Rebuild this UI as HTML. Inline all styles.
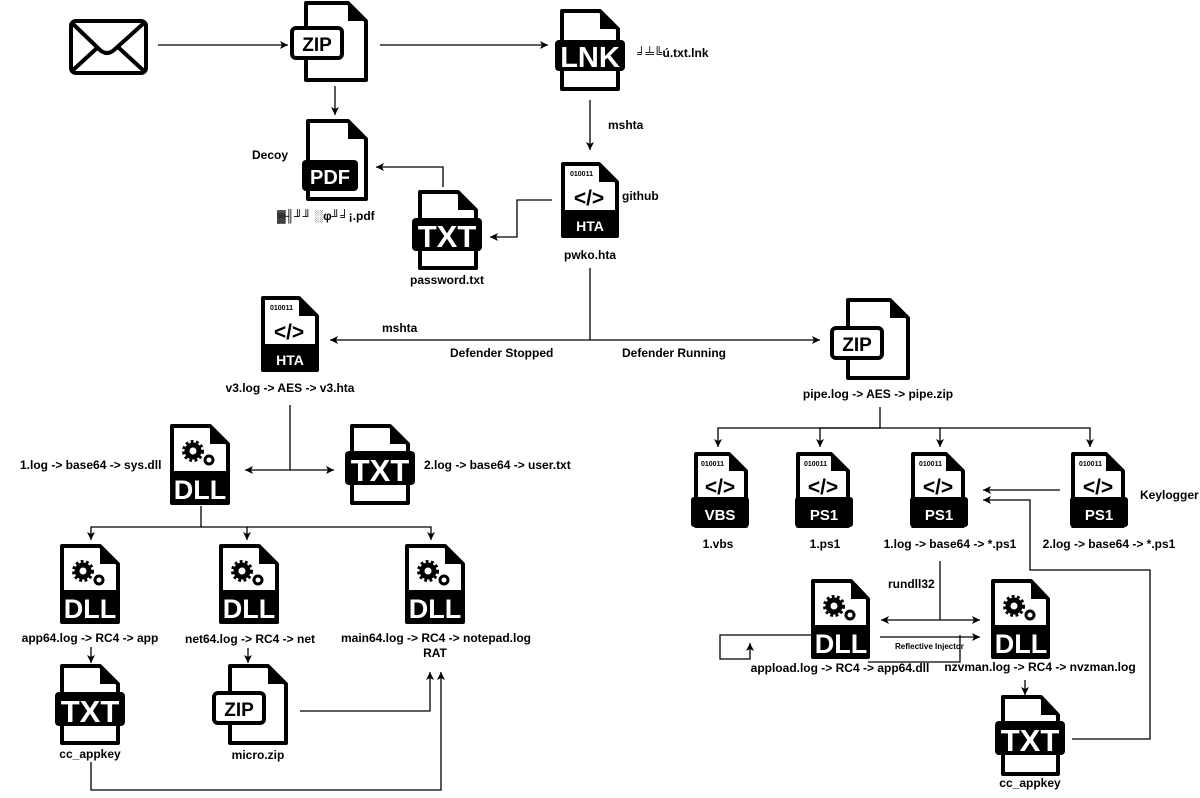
<!DOCTYPE html>
<html><head><meta charset="utf-8"><style>
html,body{margin:0;padding:0;background:#fff}
svg{display:block}
.f{fill:#fff;stroke:#000;stroke-width:4;stroke-linejoin:round}
.k{fill:#000}
.ln{fill:none;stroke:#000;stroke-width:1.3}
text{font-family:"Liberation Sans","DejaVu Sans",sans-serif;font-weight:bold}
.lb{font-size:12px}
.w{fill:#fff;text-anchor:middle}
.c{text-anchor:middle}
.g1{fill:none;stroke:#000;stroke-width:5}
.g2{fill:none;stroke:#000;stroke-width:4;stroke-dasharray:2.6 2.4}
</style></head><body>
<svg width="1200" height="798" viewBox="0 0 1200 798" xmlns="http://www.w3.org/2000/svg">
<defs><marker id="a" markerWidth="10" markerHeight="10" refX="9" refY="5" orient="auto" markerUnits="userSpaceOnUse"><path d="M1,1 L9,5 L1,9 L3,5 Z" fill="#000"/></marker></defs>

<!-- envelope -->
<rect x="71" y="21" width="75" height="52" rx="5" fill="#fff" stroke="#000" stroke-width="4"/>
<path d="M72,23 L100,50 Q107,56 114,50 L144,23 M72,71 L97,48 M144,71 L119,48" fill="none" stroke="#000" stroke-width="4"/>

<!-- connectors -->
<g class="ln">
<path d="M158,45 H288" marker-end="url(#a)"/>
<path d="M380,45 H548" marker-end="url(#a)"/>
<path d="M335,86 V115" marker-end="url(#a)"/>
<path d="M590,100 V150" marker-end="url(#a)"/>
<path d="M443,187 V167 H376" marker-end="url(#a)"/>
<path d="M552,200 H517 V237 H490" marker-end="url(#a)"/>
<path d="M590,268 V340"/>
<path d="M590,340 H330" marker-end="url(#a)"/>
<path d="M590,340 H820" marker-end="url(#a)"/>
<path d="M290,405 V470"/>
<path d="M290,470 H245" marker-end="url(#a)"/>
<path d="M290,470 H334" marker-end="url(#a)"/>
<path d="M201,506 V527 H91 V540" marker-end="url(#a)"/>
<path d="M201,527 H247 V540" marker-end="url(#a)"/>
<path d="M247,527 H431 V540" marker-end="url(#a)"/>
<path d="M91,647 V663" marker-end="url(#a)"/>
<path d="M248,648 V663" marker-end="url(#a)"/>
<path d="M300,711 H430 V672" marker-end="url(#a)"/>
<path d="M91,762 V790 H441 V672" marker-end="url(#a)"/>
<path d="M880,407 V428 H718 V447" marker-end="url(#a)"/>
<path d="M880,428 H820 V447" marker-end="url(#a)"/>
<path d="M880,428 H940 V447" marker-end="url(#a)"/>
<path d="M940,428 H1090 V447" marker-end="url(#a)"/>
<path d="M1060,490 H983" marker-end="url(#a)"/>
<path d="M1072,739 H1150 V570 H1030 V500 H983" marker-end="url(#a)"/>
<path d="M940,561 V620"/>
<path d="M940,620 H881" marker-end="url(#a)"/>
<path d="M940,620 H980" marker-end="url(#a)"/>
<path d="M880,637 H980" marker-end="url(#a)"/>
<path d="M960,635 V662 H868"/>
<path d="M812,635 H720 V659 H750 V643" marker-end="url(#a)"/>
<path d="M1025,680 V695" marker-end="url(#a)"/>
</g>

<!-- ZIP top -->
<path class="f" d="M306,3 H348 L366,21 V80 H306 Z"/><path class="k" d="M348,3 L366,21 H348 Z"/>
<rect x="292" y="28" width="50" height="30" rx="4" fill="#fff" stroke="#000" stroke-width="4"/>
<text x="317" y="51" class="c" font-size="19">ZIP</text>
<!-- LNK -->
<path class="f" d="M562,11 H600 L618,29 V89 H562 Z"/><path class="k" d="M600,11 L618,29 H600 Z"/>
<rect x="555" y="40" width="70" height="31" rx="4" class="k"/>
<text x="590" y="67" class="w" font-size="29">LNK</text>
<text x="637" y="57" class="lb">╛╧╚ú.txt.lnk</text>
<!-- PDF -->
<path class="f" d="M308,121 H348 L366,139 V199 H308 Z"/><path class="k" d="M348,121 L366,139 H348 Z"/>
<rect x="302" y="160" width="56" height="31" rx="4" class="k"/>
<text x="330" y="184" class="w" font-size="20">PDF</text>
<text x="252" y="159" class="lb">Decoy</text>
<text x="277" y="220" class="lb">▓╢╜╜ ░φ╜╛¡.pdf</text>
<!-- TXT password -->
<path class="f" d="M420,192 H458 L476,210 V268 H420 Z"/><path class="k" d="M458,192 L476,210 H458 Z"/>
<rect x="412" y="218" width="70" height="33" rx="4" class="k"/>
<text x="447" y="247" class="w" font-size="31">TXT</text>
<text x="447" y="284" class="lb c">password.txt</text>
<!-- HTA github -->
<path class="f" d="M563,164 H599 L617,182 V236 H563 Z"/><path class="k" d="M599,164 L617,182 H599 Z"/>
<rect x="561" y="210" width="58" height="28" rx="3" class="k"/>
<text x="570" y="176" font-size="7">010011</text>
<text x="589" y="205" class="c" font-size="21">&lt;/&gt;</text>
<text x="590" y="231" class="w" font-size="14">HTA</text>
<text x="622" y="200" class="lb">github</text>
<text x="590" y="259" class="lb c">pwko.hta</text>
<text x="608" y="129" class="lb">mshta</text>
<!-- HTA v3 -->
<path class="f" d="M263,298 H299 L317,316 V370 H263 Z"/><path class="k" d="M299,298 L317,316 H299 Z"/>
<rect x="261" y="344" width="58" height="28" rx="3" class="k"/>
<text x="270" y="310" font-size="7">010011</text>
<text x="289" y="339" class="c" font-size="21">&lt;/&gt;</text>
<text x="290" y="365" class="w" font-size="14">HTA</text>
<text x="290" y="392" class="lb c">v3.log -&gt; AES -&gt; v3.hta</text>
<text x="382" y="332" class="lb">mshta</text>
<text x="450" y="357" class="lb">Defender Stopped</text>
<text x="622" y="357" class="lb">Defender Running</text>
<!-- ZIP right -->
<path class="f" d="M848,300 H890 L908,318 V378 H848 Z"/><path class="k" d="M890,300 L908,318 H890 Z"/>
<rect x="832" y="328" width="50" height="30" rx="4" fill="#fff" stroke="#000" stroke-width="4"/>
<text x="857" y="351" class="c" font-size="19">ZIP</text>
<text x="878" y="398" class="lb c">pipe.log -&gt; AES -&gt; pipe.zip</text>

<!-- DLL sys -->
<path class="f" d="M172,426 H210 L228,444 V503 H172 Z"/><path class="k" d="M210,426 L228,444 H210 Z"/>
<rect x="170" y="471" width="60" height="34" rx="3" class="k"/>
<circle cx="193" cy="451" r="6" class="g1"/><circle cx="193" cy="451" r="9" class="g2"/><circle cx="209" cy="460" r="4" fill="none" stroke="#000" stroke-width="3"/>
<text x="200" y="499" class="w" font-size="27">DLL</text>
<text x="20" y="469" class="lb">1.log -&gt; base64 -&gt; sys.dll</text>
<!-- TXT user -->
<path class="f" d="M352,426 H390 L408,444 V503 H352 Z"/><path class="k" d="M390,426 L408,444 H390 Z"/>
<rect x="345" y="451" width="70" height="34" rx="4" class="k"/>
<text x="380" y="481" class="w" font-size="31">TXT</text>
<text x="424" y="469" class="lb">2.log -&gt; base64 -&gt; user.txt</text>

<!-- DLL app -->
<path class="f" d="M62,546 H100 L118,564 V622 H62 Z"/><path class="k" d="M100,546 L118,564 H100 Z"/>
<rect x="60" y="590" width="60" height="34" rx="3" class="k"/>
<circle cx="83" cy="571" r="6" class="g1"/><circle cx="83" cy="571" r="9" class="g2"/><circle cx="99" cy="580" r="4" fill="none" stroke="#000" stroke-width="3"/>
<text x="90" y="618" class="w" font-size="27">DLL</text>
<text x="90" y="642" class="lb c">app64.log -&gt; RC4 -&gt; app</text>
<!-- DLL net -->
<path class="f" d="M221,546 H259 L277,564 V622 H221 Z"/><path class="k" d="M259,546 L277,564 H259 Z"/>
<rect x="219" y="590" width="60" height="34" rx="3" class="k"/>
<circle cx="242" cy="571" r="6" class="g1"/><circle cx="242" cy="571" r="9" class="g2"/><circle cx="258" cy="580" r="4" fill="none" stroke="#000" stroke-width="3"/>
<text x="249" y="618" class="w" font-size="27">DLL</text>
<text x="250" y="643" class="lb c">net64.log -&gt; RC4 -&gt; net</text>
<!-- DLL RAT -->
<path class="f" d="M407,546 H445 L463,564 V622 H407 Z"/><path class="k" d="M445,546 L463,564 H445 Z"/>
<rect x="405" y="590" width="60" height="34" rx="3" class="k"/>
<circle cx="428" cy="571" r="6" class="g1"/><circle cx="428" cy="571" r="9" class="g2"/><circle cx="444" cy="580" r="4" fill="none" stroke="#000" stroke-width="3"/>
<text x="435" y="618" class="w" font-size="27">DLL</text>
<text x="436" y="642" class="lb c">main64.log -&gt; RC4 -&gt; notepad.log</text>
<text x="435" y="657" class="lb c">RAT</text>
<!-- TXT cc -->
<path class="f" d="M62,666 H100 L118,684 V743 H62 Z"/><path class="k" d="M100,666 L118,684 H100 Z"/>
<rect x="55" y="692" width="70" height="34" rx="4" class="k"/>
<text x="90" y="722" class="w" font-size="31">TXT</text>
<text x="90" y="758" class="lb c">cc_appkey</text>
<!-- ZIP micro -->
<path class="f" d="M230,666 H268 L286,684 V743 H230 Z"/><path class="k" d="M268,666 L286,684 H268 Z"/>
<rect x="214" y="693" width="50" height="30" rx="4" fill="#fff" stroke="#000" stroke-width="4"/>
<text x="239" y="716" class="c" font-size="19">ZIP</text>
<text x="258" y="759" class="lb c">micro.zip</text>

<!-- right scripts -->
<path class="f" d="M696,454 H729 L746,471 V526 H696 Z"/><path class="k" d="M729,454 L746,471 H729 Z"/>
<rect x="691" y="497" width="58" height="30" rx="3" class="k"/>
<text x="701" y="466" font-size="7">010011</text><text x="720" y="494" class="c" font-size="21">&lt;/&gt;</text>
<text x="720" y="520" class="w" font-size="15">VBS</text>
<text x="718" y="548" class="lb c">1.vbs</text>

<path class="f" d="M798,454 H831 L848,471 V526 H798 Z"/><path class="k" d="M831,454 L848,471 H831 Z"/>
<rect x="795" y="497" width="58" height="30" rx="3" class="k"/>
<text x="804" y="466" font-size="7">010011</text><text x="823" y="494" class="c" font-size="21">&lt;/&gt;</text>
<text x="824" y="520" class="w" font-size="15">PS1</text>
<text x="825" y="548" class="lb c">1.ps1</text>

<path class="f" d="M913,454 H946 L963,471 V526 H913 Z"/><path class="k" d="M946,454 L963,471 H946 Z"/>
<rect x="910" y="497" width="58" height="30" rx="3" class="k"/>
<text x="919" y="466" font-size="7">010011</text><text x="938" y="494" class="c" font-size="21">&lt;/&gt;</text>
<text x="939" y="520" class="w" font-size="15">PS1</text>
<text x="950" y="548" class="lb c">1.log -&gt; base64 -&gt; *.ps1</text>

<path class="f" d="M1073,454 H1106 L1123,471 V526 H1073 Z"/><path class="k" d="M1106,454 L1123,471 H1106 Z"/>
<rect x="1070" y="497" width="58" height="30" rx="3" class="k"/>
<text x="1079" y="466" font-size="7">010011</text><text x="1098" y="494" class="c" font-size="21">&lt;/&gt;</text>
<text x="1099" y="520" class="w" font-size="15">PS1</text>
<text x="1109" y="548" class="lb c">2.log -&gt; base64 -&gt; *.ps1</text>
<text x="1140" y="499" class="lb">Keylogger</text>
<text x="888" y="588" class="lb">rundll32</text>

<!-- DLL appload -->
<path class="f" d="M813,581 H851 L868,599 V657 H813 Z"/><path class="k" d="M851,581 L868,599 H851 Z"/>
<rect x="811" y="625" width="59" height="34" rx="3" class="k"/>
<circle cx="834" cy="606" r="6" class="g1"/><circle cx="834" cy="606" r="9" class="g2"/><circle cx="850" cy="615" r="4" fill="none" stroke="#000" stroke-width="3"/>
<text x="841" y="653" class="w" font-size="27">DLL</text>
<text x="840" y="672" class="lb c">appload.log -&gt; RC4 -&gt; app64.dll</text>
<!-- DLL nzvman -->
<path class="f" d="M993,581 H1031 L1048,599 V657 H993 Z"/><path class="k" d="M1031,581 L1048,599 H1031 Z"/>
<rect x="991" y="625" width="59" height="34" rx="3" class="k"/>
<circle cx="1014" cy="606" r="6" class="g1"/><circle cx="1014" cy="606" r="9" class="g2"/><circle cx="1030" cy="615" r="4" fill="none" stroke="#000" stroke-width="3"/>
<text x="1021" y="653" class="w" font-size="27">DLL</text>
<text x="1040" y="671" class="lb c">nzvman.log -&gt; RC4 -&gt; nvzman.log</text>
<text x="895" y="649" font-size="8">Reflective Injector</text>
<!-- TXT cc right -->
<path class="f" d="M1003,697 H1041 L1058,715 V774 H1003 Z"/><path class="k" d="M1041,697 L1058,715 H1041 Z"/>
<rect x="995" y="721" width="70" height="34" rx="4" class="k"/>
<text x="1030" y="751" class="w" font-size="31">TXT</text>
<text x="1030" y="787" class="lb c">cc_appkey</text>
</svg>
</body></html>
